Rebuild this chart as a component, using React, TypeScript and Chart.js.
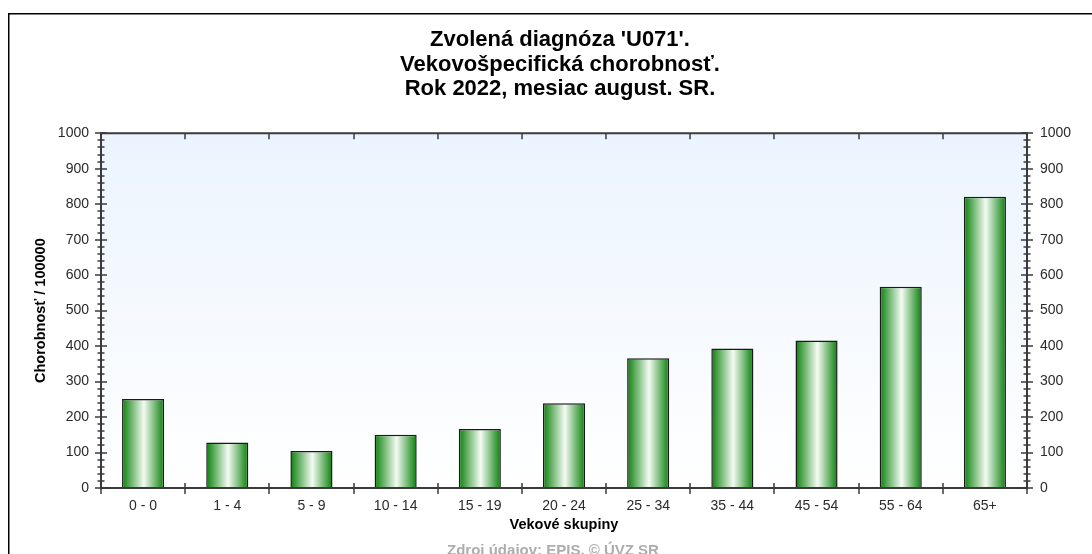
import React, { useEffect, useRef } from "react";
import { Chart, registerables } from "chart.js";

Chart.register(...registerables);

// ---- data ----
const categories = ["0 - 0", "1 - 4", "5 - 9", "10 - 14", "15 - 19", "20 - 24", "25 - 34", "35 - 44", "45 - 54", "55 - 64", "65+"];
const incidence = [251, 128, 104, 150, 166, 239, 366, 393, 416, 567, 821];
const titleLines = ["Zvolená diagnóza 'U071'.", "Vekovošpecifická chorobnosť.", "Rok 2022, mesiac august. SR."];
const yAxisTitle = "Chorobnosť / 100000";
const xAxisTitle = "Vekové skupiny";
const sourceNote = "Zdroj údajov: EPIS, © ÚVZ SR";
const yMin = 0;
const yMax = 1000;
const yMajorStep = 100;
const yMinorStep = 20;

const W = 1092;
const H = 554;
const BAR_PCT = 0.5;

function barFill(c: any) {
  const chart = c.chart;
  const xs = chart.scales && chart.scales.x;
  if (c.type !== "data" || !xs || !chart.chartArea) return "#2a8a2a";
  const cx = xs.getPixelForValue(c.dataIndex);
  const half = ((xs.width / categories.length) * BAR_PCT) / 2;
  const g = chart.ctx.createLinearGradient(cx - half, 0, cx + half, 0);
  g.addColorStop(0, "#0a800a");
  g.addColorStop(0.52, "#f4fbf4");
  g.addColorStop(1, "#0a800a");
  return g;
}

const decor = {
  id: "decor",
  beforeDraw(chart: any) {
    const { ctx, width, height } = chart;
    ctx.save();
    ctx.fillStyle = "#ffffff";
    ctx.fillRect(0, 0, width, height);
    ctx.restore();
  },
  beforeDatasetsDraw(chart: any) {
    const { ctx, chartArea: a } = chart;
    ctx.save();
    const g = ctx.createLinearGradient(0, a.top, 0, a.bottom);
    g.addColorStop(0, "#ebf4fe");
    g.addColorStop(1, "#ffffff");
    ctx.fillStyle = g;
    ctx.fillRect(a.left, a.top, a.right - a.left, a.bottom - a.top);
    ctx.restore();
  },
  afterDatasetsDraw(chart: any) {
    const { ctx, chartArea: a } = chart;
    const ys = chart.scales.y;
    const xs = chart.scales.x;
    const line = (x1: number, y1: number, x2: number, y2: number) => {
      ctx.beginPath();
      ctx.moveTo(x1, y1);
      ctx.lineTo(x2, y2);
      ctx.stroke();
    };
    ctx.save();
    ctx.strokeStyle = "#3a3a3a";
    ctx.lineWidth = 2;
    line(a.left - 1, a.top, a.right + 1, a.top);
    line(a.left, a.top, a.left, a.bottom);
    line(a.right, a.top, a.right, a.bottom);
    line(a.left - 1, a.bottom, a.right + 1, a.bottom);
    ctx.lineWidth = 1.5;
    for (let v = yMin; v <= yMax; v += yMinorStep) {
      const py = Math.round(ys.getPixelForValue(v));
      const L = v % yMajorStep === 0 ? 6 : 3.5;
      line(a.left - L, py, a.left + L, py);
      line(a.right - L, py, a.right + L, py);
    }
    for (let i = 0; i <= categories.length; i++) {
      const px = Math.round(xs.getPixelForValue(i - 0.5));
      line(px, a.bottom - 5, px, a.bottom + 6);
      line(px, a.top, px, a.top + 6);
    }
    ctx.restore();
  },
  afterDraw(chart: any) {
    const { ctx, width, height } = chart;
    ctx.save();
    ctx.fillStyle = "#000";
    ctx.fillRect(8, 13, width - 8, 1.5);
    ctx.fillRect(8, 13, 1.5, height - 13);
    ctx.fillStyle = "#adadad";
    ctx.font = "bold 15px 'Liberation Sans'";
    ctx.textAlign = "center";
    ctx.textBaseline = "alphabetic";
    ctx.fillText(sourceNote, 553, 555);
    ctx.restore();
  },
};

export default function App() {
  const ref = useRef<HTMLCanvasElement | null>(null);
  useEffect(() => {
    if (!ref.current) return;
    const tickFont = { family: "'Liberation Sans'", size: 14 };
    const axisTitleFont = { family: "'Liberation Sans'", size: 14.5, weight: "bold" as const };
    const plain = (v: any) => String(v);
    const chart = new Chart(ref.current, {
      type: "bar",
      data: {
        labels: categories,
        datasets: [
          {
            data: incidence,
            backgroundColor: barFill,
            borderColor: "#1a1a1a",
            borderWidth: 1.5,
            borderSkipped: "bottom",
            barPercentage: BAR_PCT,
            categoryPercentage: 1,
          },
        ],
      },
      options: {
        responsive: false,
        animation: false,
        devicePixelRatio: 1,
        layout: { padding: { left: 28, right: 0, top: 0, bottom: 0 } },
        plugins: {
          legend: { display: false },
          tooltip: { enabled: false },
          title: {
            display: true,
            text: titleLines,
            color: "#000",
            font: { family: "'Liberation Sans'", size: 22, weight: "bold", lineHeight: 1.11 },
            padding: { top: 28, bottom: 32 },
          },
        },
        scales: {
          x: {
            type: "category",
            offset: true,
            grid: { display: false, drawTicks: false },
            border: { display: false },
            ticks: { color: "#2a2a2a", font: tickFont, padding: 10, maxRotation: 0, autoSkip: false },
            title: {
              display: true,
              text: xAxisTitle,
              color: "#000",
              font: axisTitleFont,
              padding: { top: 0, bottom: 20 },
            },
            afterFit: (s: any) => {
              s.height = 66;
            },
          },
          y: {
            type: "linear",
            position: "left",
            min: yMin,
            max: yMax,
            grid: { display: false, drawTicks: false },
            border: { display: false },
            ticks: { stepSize: yMajorStep, color: "#2a2a2a", font: tickFont, padding: 12, callback: plain },
            title: {
              display: true,
              text: yAxisTitle,
              color: "#000",
              font: axisTitleFont,
              padding: { top: 4, bottom: 0 },
            },
            afterFit: (s: any) => {
              s.width = 73;
            },
          },
          y2: {
            type: "linear",
            position: "right",
            display: true,
            min: yMin,
            max: yMax,
            grid: { display: false, drawTicks: false },
            border: { display: false },
            ticks: { stepSize: yMajorStep, color: "#2a2a2a", font: tickFont, padding: 13, callback: plain },
            afterFit: (s: any) => {
              s.width = 65;
            },
          },
        },
      },
      plugins: [decor],
    });
    return () => chart.destroy();
  }, []);
  return (
    <div style={{ position: "absolute", left: 0, top: 0, width: W, height: H }}>
      <canvas ref={ref} width={W} height={H} style={{ width: W, height: H, display: "block" }} />
    </div>
  );
}
